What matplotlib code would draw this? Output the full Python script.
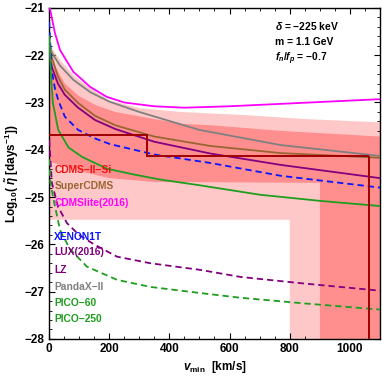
import numpy as np
import matplotlib
matplotlib.use("Agg")
import matplotlib.pyplot as plt
from matplotlib.ticker import MultipleLocator

plt.rcParams["font.family"] = ["Liberation Sans", "DejaVu Sans"]
plt.rcParams["mathtext.fontset"] = "custom"
plt.rcParams["mathtext.rm"] = "Liberation Sans:bold"
plt.rcParams["mathtext.bf"] = "Liberation Sans:bold"
plt.rcParams["mathtext.it"] = "Liberation Sans:bold:italic"

# ---- data ----
cdmslite_v = [3, 20, 37, 81, 137, 192, 250, 350, 450, 600, 800, 1100]
cdmslite_y = [-21.0, -21.53, -21.89, -22.35, -22.67, -22.88, -23.0, -23.08, -23.11, -23.08, -23.02, -22.93]

pandax_v = [1, 10, 37, 81, 137, 200, 300, 500, 770, 1100]
pandax_y = [-21.75, -21.95, -22.22, -22.52, -22.78, -22.98, -23.2, -23.58, -23.9, -24.13]

supercdms_v = [1, 9, 30, 53, 97, 153, 220, 350, 537, 770, 1100]
supercdms_y = [-21.85, -22.03, -22.45, -22.73, -23.01, -23.28, -23.48, -23.72, -23.92, -24.07, -24.17]

lux_v = [1, 9, 30, 53, 97, 153, 220, 350, 537, 770, 1100]
lux_y = [-21.95, -22.24, -22.6, -22.84, -23.11, -23.37, -23.56, -23.83, -24.08, -24.32, -24.6]

xenon_v = [1, 4, 9, 20, 31, 53, 97, 153, 203, 350, 537, 770, 1100]
xenon_y = [-21.3, -21.68, -22.31, -22.7, -22.95, -23.3, -23.58, -23.76, -23.88, -24.1, -24.28, -24.55, -24.8]

pico60_v = [2, 6, 13, 31, 65, 110, 193, 280, 370, 500, 700, 900, 1100]
pico60_y = [-21.6, -22.31, -23.0, -23.58, -23.95, -24.15, -24.4, -24.52, -24.63, -24.75, -24.95, -25.08, -25.19]

lz_v = [1, 10, 30, 60, 100, 150, 226, 337, 503, 637, 850, 1100]
lz_y = [-23.8, -24.7, -25.2, -25.55, -25.8, -26.0, -26.26, -26.4, -26.54, -26.69, -26.83, -26.98]

pico250_v = [1, 5, 17, 37, 70, 126, 226, 337, 503, 637, 850, 1100]
pico250_y = [-24.2, -24.7, -25.1, -25.7, -26.1, -26.47, -26.75, -26.9, -27.03, -27.13, -27.25, -27.38]

# CDMS-II-Si regions
light_top_v = [2, 10, 37, 81, 137, 200, 300, 437, 660, 850, 1100]
light_top_y = [-21.7, -21.85, -22.1, -22.42, -22.7, -22.95, -23.12, -23.2, -23.27, -23.35, -23.42]
light_low_v = [1100, 800, 800, 2]
light_low_y = [-28.0, -28.0, -25.48, -25.48]

dark_top_v = [3, 9, 53, 97, 153, 220, 437, 537, 770, 1100]
dark_top_y = [-21.95, -22.1, -22.6, -22.85, -23.05, -23.2, -23.45, -23.48, -23.6, -23.72]
dark_low_v = [1100, 900, 900, 350, 200, 100, 3]
dark_low_y = [-28.0, -28.0, -24.7, -24.68, -24.6, -24.45, -24.25]

step_edges = [0, 327, 1062]
step_vals = [-23.68, -24.13]

legend_labels = ["CDMS\u2212II\u2212Si", "SuperCDMS", "CDMSlite(2016)", "XENON1T",
                 "LUX(2016)", "LZ", "PandaX\u2212II", "PICO\u221260", "PICO\u2212250"]
legend_y = [-24.42, -24.77, -25.12, -25.84, -26.17, -26.54, -26.9, -27.24, -27.58]

xticks = [0, 200, 400, 600, 800, 1000]
yticks = [-28, -27, -26, -25, -24, -23, -22, -21]

# ---- style ----
c_red = "#f01010"
c_brown = "#996633"
c_mag = "#ff00ff"
c_blue = "#0a14ff"
c_purple = "#800080"
c_gray = "#808080"
c_green = "#1e9e1e"
c_light = "#ffc8c8"
c_dark = "#ff8f8f"
c_step = "#a00000"
legend_colors = [c_red, c_brown, c_mag, c_blue, c_purple, c_purple, c_gray, c_green, c_green]

fig = plt.figure(figsize=(3.82, 3.77), dpi=100)
ax = fig.add_axes([0.128, 0.101, 0.867, 0.878])

ax.fill(list(light_top_v) + list(light_low_v), list(light_top_y) + list(light_low_y),
        color=c_light, lw=0, zorder=1)
ax.fill(list(dark_top_v) + list(dark_low_v), list(dark_top_y) + list(dark_low_y),
        color=c_dark, lw=0, zorder=2)

lw = 1.3
ax.plot(cdmslite_v, cdmslite_y, color=c_mag, lw=lw, zorder=3)
ax.plot(pandax_v, pandax_y, color=c_gray, lw=lw, zorder=3)
ax.plot(supercdms_v, supercdms_y, color=c_brown, lw=lw, zorder=3)
ax.plot(lux_v, lux_y, color=c_purple, lw=lw, zorder=3)
ax.plot(xenon_v, xenon_y, color=c_blue, lw=lw, dashes=(3.5, 2.2), zorder=3)
ax.plot(pico60_v, pico60_y, color=c_green, lw=lw, zorder=3)
ax.plot(lz_v, lz_y, color=c_purple, lw=lw, dashes=(3.5, 2.2), zorder=3)
ax.plot(pico250_v, pico250_y, color=c_green, lw=lw, dashes=(3.5, 2.2), zorder=3)

ax.stairs(step_vals, step_edges, color=c_step, lw=1.4, baseline=None, zorder=4)
ax.vlines(step_edges[-1], -28, step_vals[-1], color=c_step, lw=1.4, zorder=4)
ax.vlines(step_edges[1], step_vals[1], step_vals[0], color=c_step, lw=1.4, zorder=4)

for lab, yy, col in zip(legend_labels, legend_y, legend_colors):
    ax.text(18, yy, lab, color=col, fontsize=7.4, fontweight="bold",
            va="center", ha="left", zorder=5)

ax.text(752, -21.38, "$\\mathit{\\delta}$ = \u2212225 keV", fontsize=7.4, fontweight="bold", va="center")
ax.text(752, -21.73, "m = 1.1 GeV", fontsize=7.4, fontweight="bold", va="center")
ax.text(752, -22.07, "$\\mathit{f_n}/\\mathit{f_p}$ = \u22120.7", fontsize=7.4, fontweight="bold", va="center")

ax.set_xlim(0, 1100)
ax.set_ylim(-28, -21)
ax.set_xticks(xticks)
ax.set_yticks(yticks)
ax.set_yticklabels([f"\u2212{abs(t)}" for t in yticks])
ax.xaxis.set_minor_locator(MultipleLocator(50))
ax.yaxis.set_minor_locator(MultipleLocator(0.2))
ax.tick_params(which="both", direction="in", top=True, right=True)
ax.tick_params(which="major", length=4, width=0.8, labelsize=8.5, pad=3)
ax.tick_params(which="minor", length=2, width=0.6)
for lab in ax.get_xticklabels() + ax.get_yticklabels():
    lab.set_fontweight("bold")
for s in ax.spines.values():
    s.set_linewidth(1.0)

ax.set_xlabel("$\\mathit{v}_{\\mathrm{min}}$  [km/s]", fontsize=8.5, fontweight="bold", labelpad=3)
ax.set_ylabel("Log$_{10}$( $\\tilde{\\mathit{\\eta}}$ [days$^{-1}$])", fontsize=8.5, fontweight="bold", labelpad=3)

fig.savefig("out.png", dpi=100)
